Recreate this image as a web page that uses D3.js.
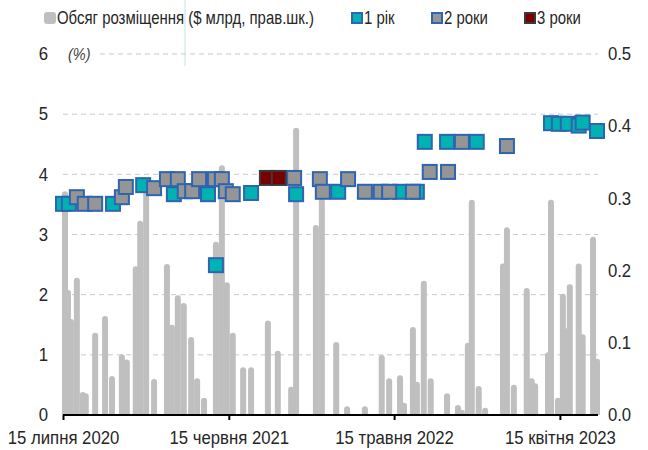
<!DOCTYPE html>
<html><head><meta charset="utf-8">
<script src="https://cdn.jsdelivr.net/npm/d3@7"></script>
<style>
html,body{margin:0;padding:0;background:#fff;}
svg{display:block;}
text{font-family:"Liberation Sans",Arial,sans-serif;}
</style></head>
<body><svg id="c" width="648" height="450"></svg>
<script>
// ---- data ----
const barDates = ["2020-07-19","2020-07-25","2020-07-31","2020-08-12","2020-08-24","2020-08-30","2020-09-18","2020-10-08","2020-10-22","2020-11-11","2020-11-21","2020-12-09","2020-12-18","2020-12-30","2021-01-15","2021-02-10","2021-02-20","2021-03-04","2021-03-16","2021-03-31","2021-04-12","2021-04-26","2021-05-20","2021-06-01","2021-06-11","2021-06-23","2021-07-14","2021-07-30","2021-09-02","2021-09-22","2021-10-19","2021-10-29","2021-12-08","2021-12-20","2022-01-18","2022-02-09","2022-03-17","2022-04-20","2022-05-05","2022-05-27","2022-06-04","2022-06-22","2022-06-30","2022-07-14","2022-07-28","2022-08-30","2022-09-21","2022-09-29","2022-10-11","2022-10-19","2022-11-02","2022-11-15","2022-12-21","2022-12-29","2023-01-12","2023-02-07","2023-02-17","2023-02-24","2023-03-22","2023-03-28","2023-04-11","2023-04-21","2023-04-29","2023-05-05","2023-05-23","2023-05-31","2023-06-21","2023-06-29"];
const barValues = [0.31,0.173,0.133,0.19,0.032,0.03,0.114,0.137,0.054,0.084,0.077,0.206,0.269,0.325,0.05,0.209,0.125,0.166,0.155,0.108,0.051,0.024,0.24,0.346,0.184,0.114,0.066,0.066,0.131,0.089,0.039,0.398,0.263,0.30,0.101,0.012,0.012,0.083,0.051,0.055,0.017,0.122,0.046,0.186,0.051,0.03,0.014,0.006,0.1,0.298,0.04,0.01,0.21,0.26,0.042,0.176,0.051,0.044,0.087,0.298,0.024,0.168,0.12,0.181,0.21,0.112,0.247,0.078];

const oneYearDates = ["2020-07-15","2020-07-27","2020-10-24","2020-12-24","2021-02-24","2021-05-04","2021-05-20","2021-07-30","2021-10-29","2022-01-22","2022-05-27","2022-06-30","2022-07-16","2022-08-30","2022-10-29","2023-03-28","2023-04-13","2023-05-01","2023-05-23","2023-05-31","2023-06-29"];
const oneYearRates = [3.51,3.51,3.51,3.82,3.67,3.67,2.49,3.69,3.67,3.71,3.71,3.71,4.54,4.54,4.54,4.85,4.84,4.84,4.81,4.86,4.72];

const twoYearDates = ["2020-08-12","2020-08-28","2020-09-18","2020-11-11","2020-11-19","2021-01-15","2021-02-10","2021-03-04","2021-03-18","2021-04-02","2021-04-16","2021-05-18","2021-06-01","2021-06-09","2021-06-23","2021-10-25","2021-12-16","2021-12-22","2022-02-11","2022-03-17","2022-04-18","2022-05-05","2022-06-22","2022-07-26","2022-09-01","2022-09-29","2022-12-29"];
const twoYearRates = [3.62,3.51,3.51,3.62,3.79,3.77,3.92,3.92,3.72,3.72,3.92,3.92,3.92,3.72,3.67,3.94,3.92,3.71,3.92,3.71,3.71,3.71,3.71,4.04,4.04,4.54,4.47];

const threeYearDates = ["2021-08-31","2021-09-24"];
const threeYearRates = [3.94,3.94];

const xTickDates = ["2020-07-15","2021-06-15","2022-05-15","2023-04-15"];
const xTickLabels = ["15 липня 2020","15 червня 2021","15 травня 2022","15 квітня 2023"];
const leftTicks = [0,1,2,3,4,5,6];
const rightTicks = [0,0.1,0.2,0.3,0.4,0.5];
const legendLabels = ["Обсяг розміщення ($ млрд, прав.шк.)","1 рік","2 роки","3 роки"];

// ---- drawing ----
const parse = d3.utcParse("%Y-%m-%d");
const svg = d3.select("#c");
const x = d3.scaleUtc().domain([parse("2020-07-15"), parse("2023-07-01")]).range([63, 598]);
const yL = d3.scaleLinear().domain([0,6]).range([415,54]);
const yR = d3.scaleLinear().domain([0,0.5]).range([415,54]);

const textCol = "#262626";
const axisNarrow = "scale(0.93,1)";
const legNarrow = "scale(0.83,1)";
const fsAxis = 18, fsLeg = 18;
const ff = '"Liberation Sans",Arial,sans-serif';

// faint vertical artifact line at top
svg.append("line").attr("x1",185).attr("x2",185).attr("y1",0).attr("y2",66)
  .attr("stroke","#e3f0f0").attr("stroke-width",2);

// gridlines
svg.append("g").selectAll("line").data(leftTicks.filter(d=>d>0)).join("line")
  .attr("x1", d => d===6 ? 100 : 63).attr("x2", 598)
  .attr("y1", d=>yL(d)).attr("y2", d=>yL(d))
  .attr("stroke","#c9c9c9").attr("stroke-width",1).attr("stroke-dasharray","5,4");

// bars (rounded tops)
const bw = 6, r = 3;
svg.append("g").selectAll("path").data(barDates.map((d,i)=>({d:parse(d),v:barValues[i]}))).join("path")
  .attr("fill","#bfbfbf")
  .attr("d", p => {
    const cx = x(p.d), x0 = cx-bw/2, x1 = cx+bw/2, top = yR(p.v), base = yR(0);
    const rr = Math.min(r, (base-top)/2);
    return `M${x0},${base}V${top+rr}A${rr},${rr} 0 0 1 ${x1},${top+rr}V${base}Z`;
  });

// squares
const sz = 16;
function squares(dates, rates, fill, stroke){
  svg.append("g").selectAll("rect").data(dates.map((d,i)=>({d:parse(d),v:rates[i]}))).join("rect")
    .attr("x", p=>x(p.d)-sz/2+1).attr("y", p=>yL(p.v)-sz/2+1)
    .attr("width", sz-2).attr("height", sz-2)
    .attr("fill", fill).attr("stroke", stroke).attr("stroke-width", 2);
}
squares(oneYearDates, oneYearRates, "#00b2b2", "#2f64b0");
squares(twoYearDates, twoYearRates, "#959595", "#2f64b0");
squares(threeYearDates, threeYearRates, "#7a0000", "#3a3a3a");

// x axis
const xAxis = d3.axisBottom(x).tickValues(xTickDates.map(parse))
  .tickFormat((d,i)=>xTickLabels[i]).tickSize(5).tickSizeOuter(0);
const gx = svg.append("g").attr("transform","translate(0,415)").call(xAxis);
gx.select(".domain").attr("stroke","#000").attr("stroke-width",2).attr("d","M63,0H598");
gx.selectAll(".tick line").attr("stroke","#000").attr("stroke-width",2);
gx.selectAll(".tick text").attr("fill",textCol).attr("font-size",fsAxis).attr("y",16).attr("dy","0.71em")
  .attr("transform",axisNarrow).attr("font-family",ff);

// left axis
const gl = svg.append("g").attr("transform","translate(50,0)")
  .call(d3.axisLeft(yL).tickValues(leftTicks).tickFormat(d3.format("d")).tickSize(0));
gl.select(".domain").remove();
gl.selectAll("text").attr("fill",textCol).attr("font-size",fsAxis).attr("x",-2)
  .attr("transform",axisNarrow).attr("font-family",ff);

// right axis
const gr = svg.append("g").attr("transform","translate(607,0)")
  .call(d3.axisRight(yR).tickValues(rightTicks).tickFormat(d3.format(".1f")).tickSize(0));
gr.select(".domain").remove();
gr.selectAll("text").attr("fill",textCol).attr("font-size",fsAxis).attr("x",1)
  .attr("transform",axisNarrow).attr("font-family",ff);

// (%) label
svg.append("g").attr("transform",`translate(68,${yL(6)})`)
  .append("text").attr("dy","0.35em").attr("transform","scale(0.85,1)")
  .attr("font-size",17).attr("font-style","italic").attr("fill","#404040").text("(%)");

// legend
const legendX = [44, 351, 431, 524];
const legendFill = ["#bfbfbf","#00b2b2","#959595","#7a0000"];
const legendStroke = ["#bfbfbf","#2f64b0","#2f64b0","#3a3a3a"];
const lg = svg.append("g");
legendLabels.forEach((t,i)=>{
  lg.append("rect").attr("x",legendX[i]+1).attr("y",13).attr("width",10).attr("height",10)
    .attr("fill",legendFill[i]).attr("stroke",legendStroke[i]).attr("stroke-width",2)
    .attr("rx", i===0?2:0);
  lg.append("g").attr("transform",`translate(${legendX[i]+13},18)`)
    .append("text").attr("dy","0.35em").attr("transform",legNarrow)
    .attr("font-size",fsLeg).attr("fill",textCol).text(t);
});
</script></body></html>
